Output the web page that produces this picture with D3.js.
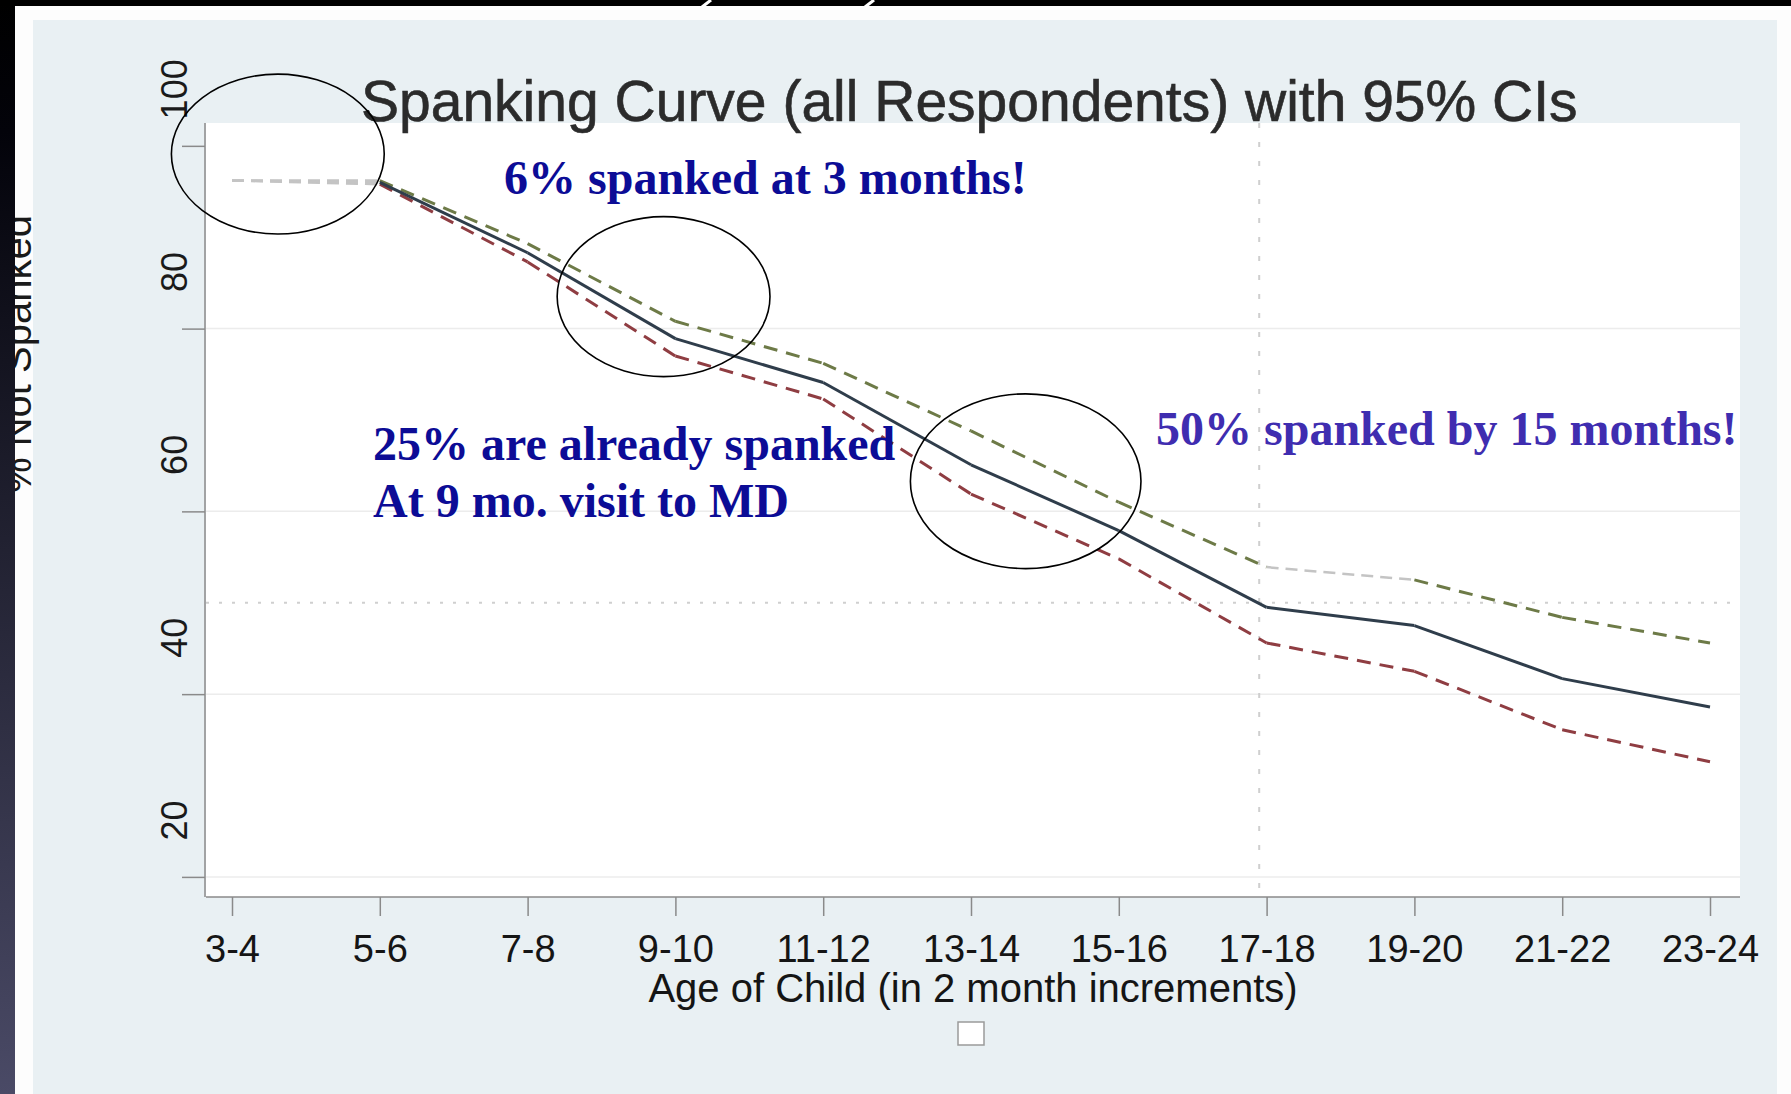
<!DOCTYPE html>
<html>
<head>
<meta charset="utf-8">
<script src="https://cdn.jsdelivr.net/npm/d3@7"></script>
<style>
  html, body { margin: 0; padding: 0; background: #000; }
  svg { display: block; }
</style>
</head>
<body>
<script>
// ---------------- data ----------------
const ages = ["3-4","5-6","7-8","9-10","11-12","13-14","15-16","17-18","19-20","21-22","23-24"];
const meanNotSpanked  = [96.2, 96.0, 88.3, 78.9, 74.1, 65.1, 57.9, 49.5, 47.5, 41.7, 38.6];
const upperCI         = [96.2, 96.2, 89.3, 80.8, 76.2, 68.8, 61.0, 53.9, 52.5, 48.4, 45.6];
const lowerCI         = [96.2, 95.8, 87.3, 77.0, 72.3, 61.9, 54.8, 45.6, 42.5, 36.1, 32.6];
const yTicks = [20, 40, 60, 80, 100];
const refValue = 50;        // horizontal reference (50% not spanked)
const refAgeIndex = 6.95;   // vertical reference (~17 months)
const titleText = "Spanking Curve (all Respondents) with 95% CIs";
const xTitle = "Age of Child (in 2 month increments)";
const yTitle = "% Not Spanked";
const notes = [
  {lines: ["6% spanked at 3 months!"], color: "#0c0c96"},
  {lines: ["25% are already spanked", "At 9 mo. visit to MD"], color: "#0c0c96"},
  {lines: ["50% spanked by 15 months!"], color: "#3f2db0"}
];
// ellipses in data units: center (age index, value), radii (index units, value units)
const rings = [
  {cx: 0.31, cy: 99.1, rx: 0.72, ry: 8.75},
  {cx: 2.92, cy: 83.5, rx: 0.72, ry: 8.75},
  {cx: 5.37, cy: 63.3, rx: 0.78, ry: 9.56}
];

// ---------------- layout ----------------
const W = 1791, H = 1094;
const plot = {left: 206, right: 1740, top: 123, bottom: 897};

const svg = d3.select("body").append("svg")
  .attr("width", W).attr("height", H)
  .attr("viewBox", `0 0 ${W} ${H}`);

const defs = svg.append("defs");
const grad = defs.append("linearGradient").attr("id", "strip")
  .attr("x1", 0).attr("y1", 0).attr("x2", 0).attr("y2", 1);
grad.append("stop").attr("offset", "0%").attr("stop-color", "#000000");
grad.append("stop").attr("offset", "12%").attr("stop-color", "#03030a");
grad.append("stop").attr("offset", "100%").attr("stop-color", "#4a4a66");

// slide background
svg.append("rect").attr("x", 0).attr("y", 0).attr("width", W).attr("height", H).attr("fill", "#000");
svg.append("rect").attr("x", 15).attr("y", 6).attr("width", W - 15).attr("height", H - 6).attr("fill", "#fdfdfd");
// stata panel
svg.append("rect").attr("x", 33).attr("y", 20).attr("width", 1777 - 33).attr("height", H - 20).attr("fill", "#e9f0f3");

// plot region
svg.append("rect").attr("x", plot.left).attr("y", plot.top)
  .attr("width", plot.right - plot.left).attr("height", plot.bottom - plot.top)
  .attr("fill", "#ffffff");

const x = d3.scaleLinear().domain([0, ages.length - 1]).range([232, 1710]);
const y = d3.scaleLinear().domain([17.8, 102.5]).range([plot.bottom, plot.top]);

// gridlines
svg.append("g").selectAll("line").data(yTicks.filter(v => v < 100)).join("line")
  .attr("x1", plot.left).attr("x2", plot.right)
  .attr("y1", d => y(d)).attr("y2", d => y(d))
  .attr("stroke", "#ececec").attr("stroke-width", 1.5);

// reference lines
svg.append("line")
  .attr("x1", plot.left).attr("x2", plot.right)
  .attr("y1", y(refValue)).attr("y2", y(refValue))
  .attr("stroke", "#cfcfcf").attr("stroke-width", 2).attr("stroke-dasharray", "3,10");
svg.append("line")
  .attr("x1", x(refAgeIndex)).attr("x2", x(refAgeIndex))
  .attr("y1", plot.top).attr("y2", plot.bottom)
  .attr("stroke", "#cfcfcf").attr("stroke-width", 2).attr("stroke-dasharray", "5,14");

// axes
const yAxis = d3.axisLeft(y).tickValues(yTicks).tickSize(23).tickSizeOuter(0).tickFormat(d3.format("d"));
const gy = svg.append("g").attr("transform", `translate(${plot.left - 1},0)`).call(yAxis);
gy.select(".domain").attr("stroke", "#8a8a8a").attr("stroke-width", 1.5)
  .attr("d", `M0,${plot.top}V${plot.bottom}`);
gy.selectAll(".tick line").attr("stroke", "#8a8a8a").attr("stroke-width", 1.5);
gy.selectAll(".tick text")
  .attr("x", null).attr("dy", null)
  .attr("transform", "translate(-18,-57) rotate(-90)")
  .attr("text-anchor", "middle")
  .attr("fill", "#1a1a1a")
  .style("font-family", "'Liberation Sans', Arial, sans-serif")
  .style("font-size", "36px");

const xAxis = d3.axisBottom(x).tickValues(d3.range(ages.length)).tickFormat(i => ages[i]).tickSize(19).tickSizeOuter(0);
const gx = svg.append("g").attr("transform", `translate(0,${plot.bottom})`).call(xAxis);
gx.select(".domain").attr("stroke", "#8a8a8a").attr("stroke-width", 1.5)
  .attr("d", `M${plot.left},0H${plot.right}`);
gx.selectAll(".tick line").attr("stroke", "#8a8a8a").attr("stroke-width", 1.5);
gx.selectAll(".tick text")
  .attr("y", 65).attr("dy", null)
  .attr("fill", "#151515")
  .style("font-family", "'Liberation Sans', Arial, sans-serif")
  .style("font-size", "38px");

// series
const series = [
  {values: upperCI, color: "#6d7a47", dash: "14,9", width: 3, faded: [0, 7]},
  {values: lowerCI, color: "#8f3d42", dash: "14,9", width: 3, faded: [0]},
  {values: meanNotSpanked, color: "#2f3d4b", dash: null, width: 3, faded: [0]}
];
const line = d3.line().x(d => x(d[0])).y(d => y(d[1]));
const gl = svg.append("g").attr("fill", "none");
series.forEach(s => {
  d3.pairs(d3.range(s.values.length)).forEach(([i, j], k) => {
    const faded = s.faded.includes(k);
    gl.append("path")
      .attr("d", line([[i, s.values[i]], [j, s.values[j]]]))
      .attr("stroke", faded ? "#c4c4c4" : s.color)
      .attr("stroke-width", faded ? 2.5 : s.width)
      .attr("stroke-dasharray", faded ? "12,7" : s.dash)
      .attr("stroke-linejoin", "round");
  });
});

// title
svg.append("text").attr("x", 361).attr("y", 121)
  .attr("fill", "#2b2b2b").attr("stroke", "#2b2b2b").attr("stroke-width", 0.6)
  .style("font-family", "'Liberation Sans', Arial, sans-serif")
  .style("font-size", "57px")
  .text(titleText);

// axis titles
svg.append("text")
  .attr("x", (plot.left + plot.right) / 2).attr("y", 1002)
  .attr("text-anchor", "middle").attr("fill", "#151515")
  .style("font-family", "'Liberation Sans', Arial, sans-serif")
  .style("font-size", "40px")
  .text(xTitle);

svg.append("text")
  .attr("transform", "translate(31,354) rotate(-90)")
  .attr("text-anchor", "middle").attr("fill", "#1a1a1a")
  .style("font-family", "'Liberation Sans', Arial, sans-serif")
  .style("font-size", "40px")
  .text(yTitle);

// legend key (empty box)
svg.append("rect").attr("x", 958).attr("y", 1022).attr("width", 26).attr("height", 23)
  .attr("fill", "#fff").attr("stroke", "#9a9a9a").attr("stroke-width", 1.5);

// annotations
const notePos = [[504, 194], [373, 460], [1156, 445]];
notes.forEach((n, k) => {
  const t = svg.append("text")
    .attr("x", notePos[k][0]).attr("y", notePos[k][1])
    .attr("fill", n.color)
    .style("font-family", "'Liberation Serif', 'Times New Roman', serif")
    .style("font-weight", "bold")
    .style("font-size", "48px");
  n.lines.forEach((l, i) => {
    t.append("tspan").attr("x", notePos[k][0]).attr("dy", i === 0 ? 0 : 57).text(l);
  });
});

// ellipses
svg.append("g").selectAll("ellipse").data(rings).join("ellipse")
  .attr("cx", d => x(d.cx)).attr("cy", d => y(d.cy))
  .attr("rx", d => x(d.rx) - x(0)).attr("ry", d => y(0) - y(d.ry))
  .attr("fill", "none").attr("stroke", "#000").attr("stroke-width", 1.6);

// dark left strip and top band on top
svg.append("rect").attr("x", 0).attr("y", 0).attr("width", 15).attr("height", H).attr("fill", "url(#strip)");
svg.append("rect").attr("x", 0).attr("y", 0).attr("width", W).attr("height", 6).attr("fill", "#000");
// white slashes in the top band
[706, 869].forEach(x0 => {
  svg.append("line").attr("x1", x0 + 5).attr("y1", 0).attr("x2", x0 - 4).attr("y2", 7)
    .attr("stroke", "#fff").attr("stroke-width", 3);
});
</script>
</body>
</html>
